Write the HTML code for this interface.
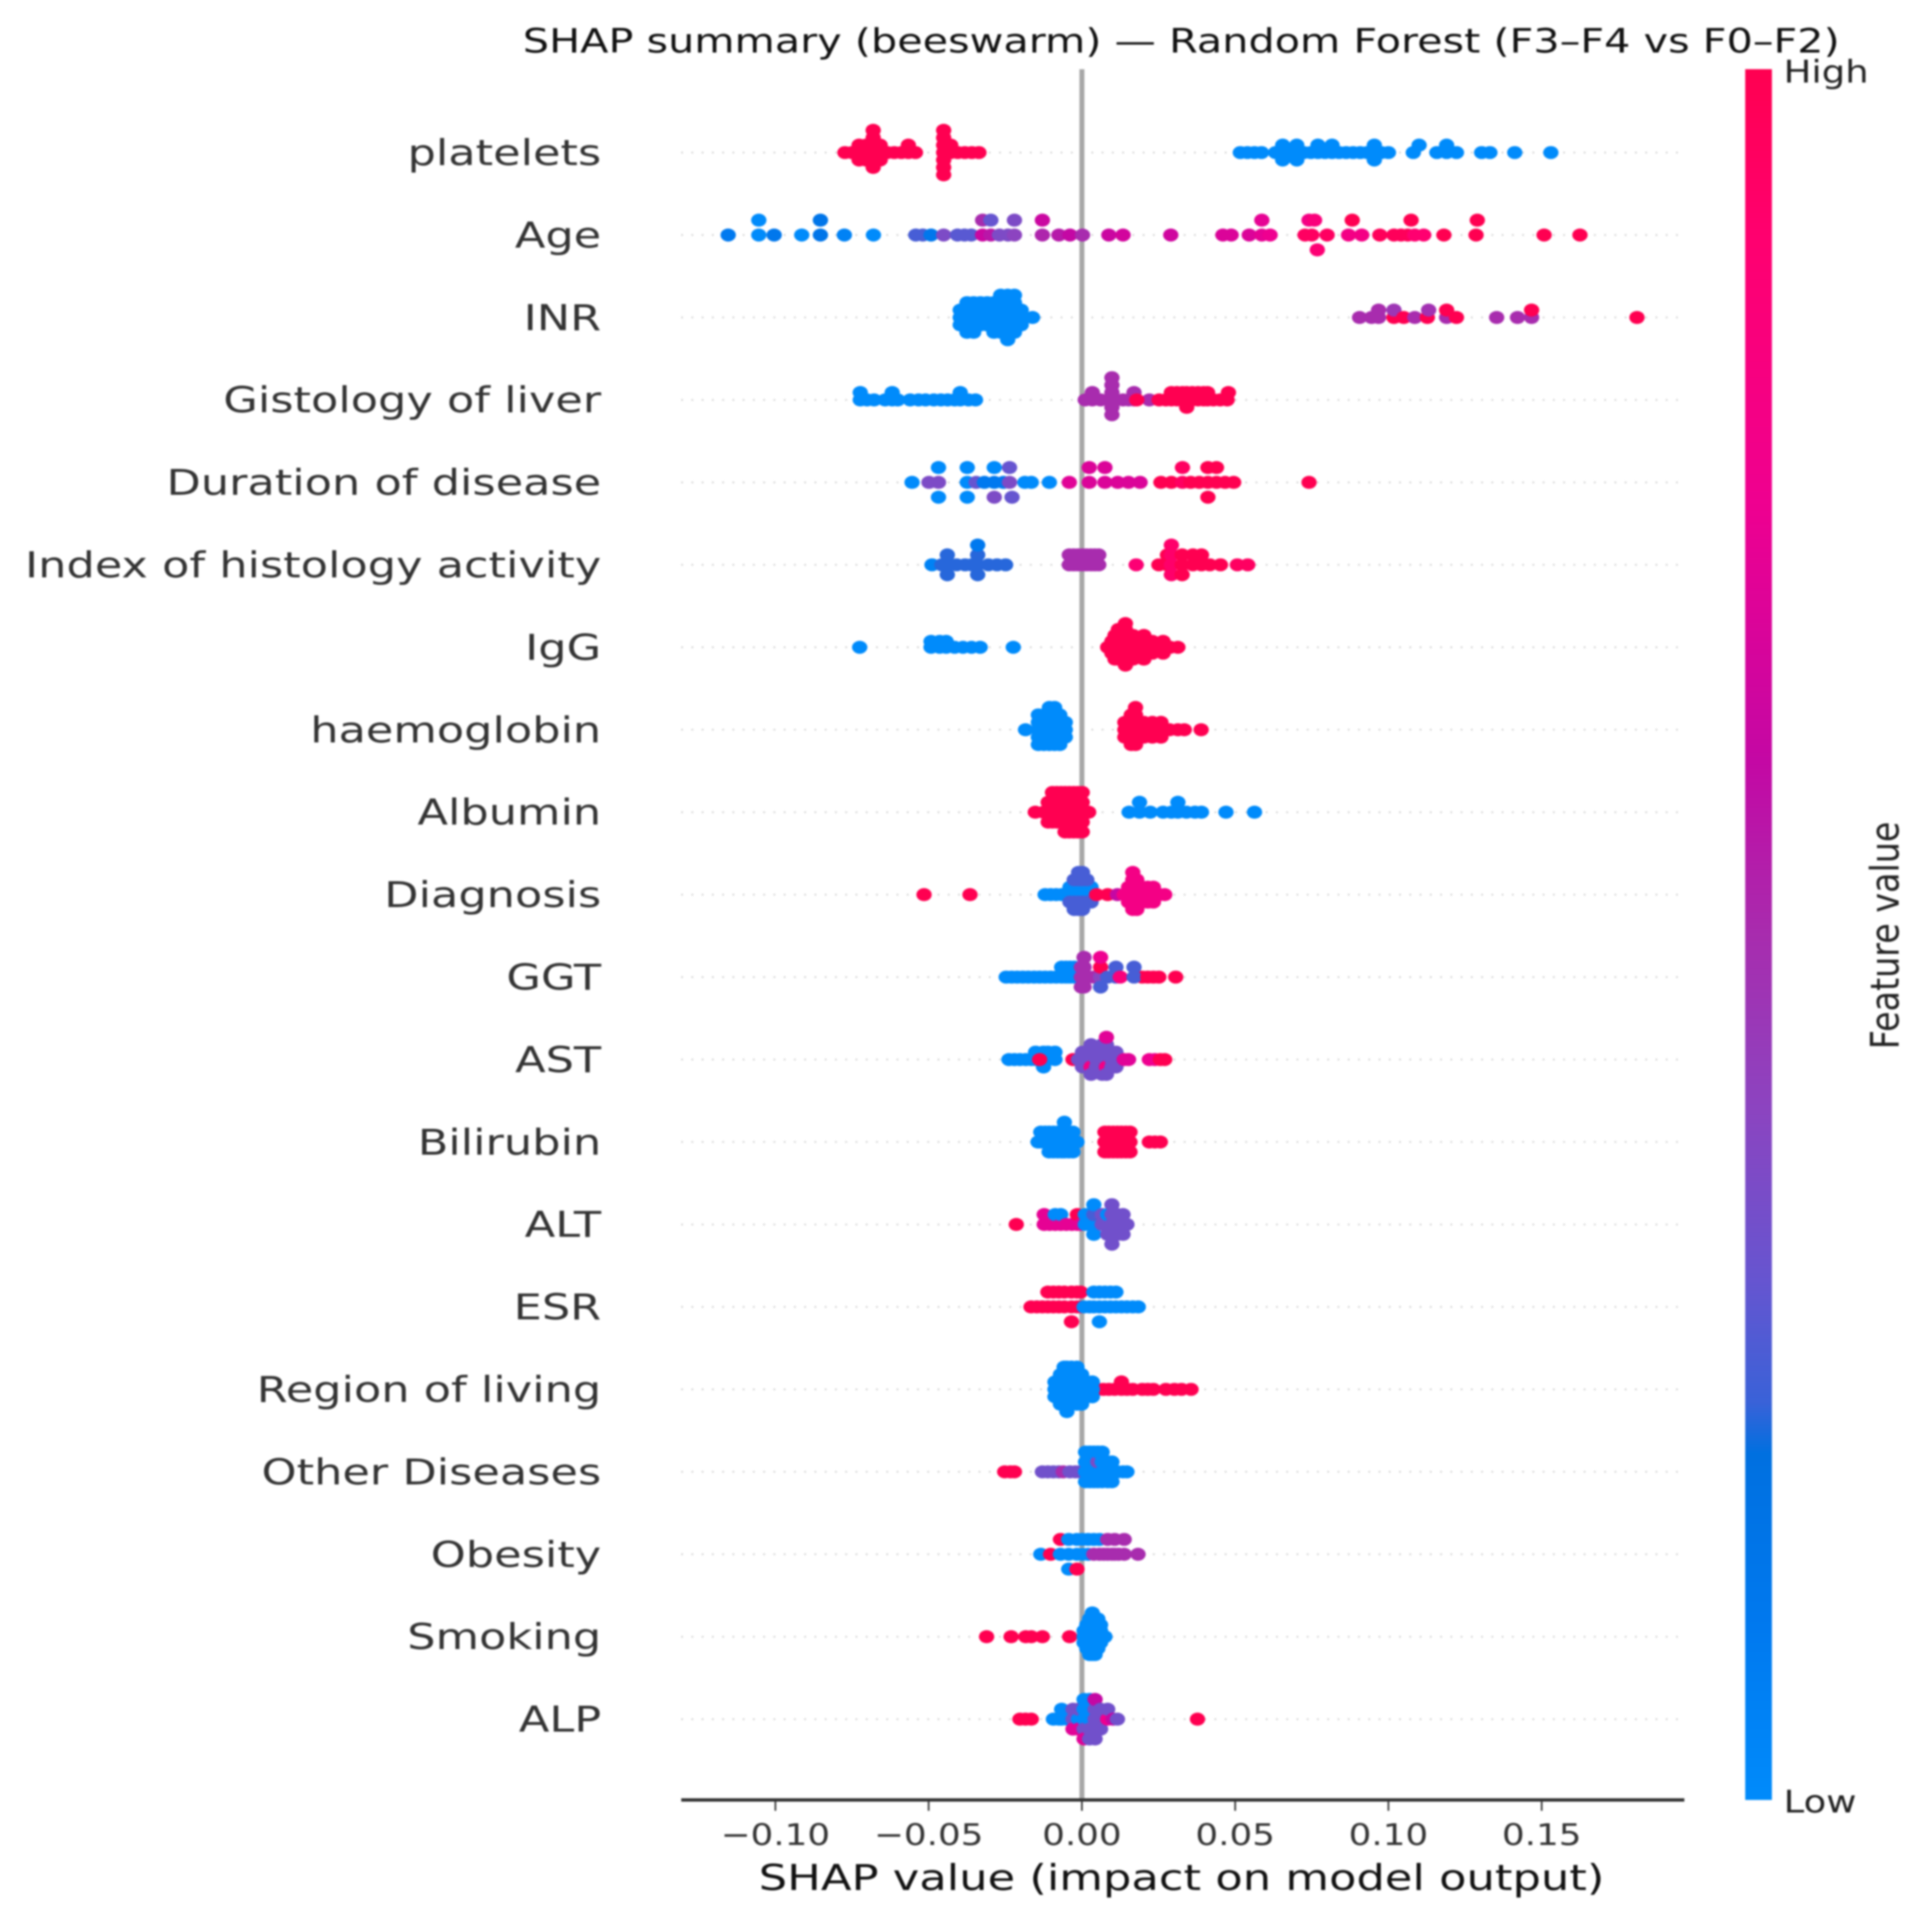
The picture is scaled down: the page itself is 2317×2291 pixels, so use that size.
<!DOCTYPE html>
<html lang="en">
<head>
<meta charset="utf-8">
<title>SHAP summary (beeswarm)</title>
<style>
html,body{margin:0;padding:0;background:#fff;}
svg{display:block;filter:blur(1px);}
text{font-family:"DejaVu Sans","Liberation Sans",sans-serif;}
</style>
</head>
<body>
<svg id="chart" xmlns="http://www.w3.org/2000/svg" width="2317" height="2291" viewBox="0 0 2317 2291">
<rect x="0" y="0" width="2317" height="2291" fill="#ffffff"/>
<defs id="defs"></defs>
<g id="grid"></g>
<line x1="1297.5" y1="83" x2="1297.5" y2="2159" stroke="#a8a8a8" stroke-width="6"/>
<g id="dots"></g>
<g id="labels"></g>
<line x1="817" y1="2159" x2="2020" y2="2159" stroke="#333333" stroke-width="4"/>
<g id="ticks"></g>
<text transform="translate(627,63) scale(1.24,1)" font-size="40" fill="#111">SHAP summary (beeswarm) — Random Forest (F3–F4 vs F0–F2)</text>
<text transform="translate(1417,2267) scale(1.25,1)" font-size="43" text-anchor="middle" fill="#111">SHAP value (impact on model output)</text>
<rect id="cbar" x="2093" y="83" width="32" height="2076"/>
<text transform="translate(2139,99) scale(1.2,1)" font-size="37" fill="#222">High</text>
<text transform="translate(2139,2174) scale(1.2,1)" font-size="37" fill="#222">Low</text>
<text transform="translate(2277,1122) scale(1.19,1) rotate(-90)" font-size="40" text-anchor="middle" fill="#222">Feature value</text>
</svg>
<script>
const featureNames = ["platelets","Age","INR","Gistology of liver","Duration of disease","Index of histology activity","IgG","haemoglobin","Albumin","Diagnosis","GGT","AST","Bilirubin","ALT","ESR","Region of living","Other Diseases","Obesity","Smoking","ALP"];
const xTickValues = [-0.10,-0.05,0,0.05,0.10,0.15];
const xTickLabels = ["−0.10","−0.05","0.00","0.05","0.10","0.15"];
const colorStops = [[0,"#008bfb"],[0.1,"#0079ef"],[0.2,"#0070e0"],[0.23,"#3a62d8"],[0.3,"#6655d0"],[0.4,"#8c44c0"],[0.5,"#a82cae"],[0.6,"#c408a4"],[0.75,"#ef0090"],[0.9,"#ff0070"],[1,"#ff0051"]];

/* each row: groups of [feature value 0..1, [SHAP values]] */
const platelets = [
 [1,[-.0773,-.0750,-.0727,-.0727,-.0727,-.0704,-.0704,-.0704,-.0681,-.0681,-.0681,-.0681,-.0681,-.0681,-.0658,-.0658,-.0658,-.0635,-.0612,-.0589,-.0566,-.0566,-.0543,-.0451,-.0451,-.0451,-.0451,-.0451,-.0451,-.0451,-.0428,-.0428,-.0405,-.0382,-.0359,-.0336]],
 [0,[.0517,.0540,.0563,.0586,.0632,.0655,.0655,.0655,.0678,.0701,.0701,.0701,.0724,.0747,.0770,.0770,.0793,.0816,.0816,.0839,.0862,.0885,.0908,.0931,.0954,.0954,.0954,.0977,.1000,.1081,.1100,.1158,.1190,.1190,.1222,.1304,.1331,.1412,.1530]]
];
const age = [
 [.1,[-.1154]],[0,[-.1054,-.1054]],[.12,[-.1004]],[0,[-.0914]],[.14,[-.0853,-.0853]],[.05,[-.0775]],[0,[-.0680]],
 [.25,[-.0542,-.0519]],[.12,[-.0492]],[.36,[-.0451]],[.28,[-.0406,-.0383,-.0361]],[.62,[-.0324]],[.5,[-.0324]],[.56,[-.0297]],[.3,[-.0297]],[.36,[-.0269,-.0241]],[.4,[-.0220]],[.36,[-.0220]],
 [.52,[-.0129]],[.62,[-.0129]],[.55,[-.0075]],[.6,[-.0039]],[.5,[.0002]],[.62,[.0088]],[.65,[.0134]],[.64,[.0290]],[.68,[.0460,.0487,.0546]],[.72,[.0587,.0587]],[.75,[.0614]],
 [.95,[.0728]],[.8,[.0741]],[.95,[.0750]],[.85,[.0759]],[.88,[.0768]],[.95,[.0800]],[.8,[.0870]],[1,[.0882]],[.8,[.0913]],[.97,[.0972,.1018,.1041,.1063]],[1,[.1074]],[.9,[.1086,.1115]],[1,[.1181,.1286,.1290,.1508,.1625]]
];
const inr = [
 [0,[-.0397,-.0397,-.0397,-.0375,-.0375,-.0375,-.0375,-.0375,-.0353,-.0353,-.0353,-.0353,-.0353,-.0331,-.0331,-.0331,-.0331,-.0309,-.0309,-.0309,-.0309,-.0287,-.0287,-.0287,-.0287,-.0287,-.0265,-.0265,-.0265,-.0265,-.0265,-.0265,-.0242,-.0242,-.0242,-.0242,-.0242,-.0242,-.0242,-.0220,-.0220,-.0220,-.0220,-.0220,-.0220,-.0198,-.0198,-.0198,-.0161]],
 [.5,[.0906,.0945,.0968,.0968]],[1,[.1018]],[.46,[.1018]],[1,[.1050]],[.5,[.1086]],[1,[.1127]],[.48,[.1131]],[.5,[.1190]],[1,[.1190,.1222]],[.5,[.1353,.1421,.1467]],[1,[.1467]],[1,[.1811]]
];
const gistology = [
 [0,[-.0723,-.0723,-.0701,-.0678,-.0642,-.0619,-.0619,-.0601,-.0560,-.0533,-.0510,-.0483,-.0460,-.0438,-.0415,-.0397,-.0397,-.0370,-.0347]],
 [.5,[.0011,.0034,.0034,.0061,.0098,.0098,.0098,.0098,.0098,.0098,.0134,.0152,.0170,.0170,.0220]],
 [1,[.0179,.0252,.0274,.0292,.0292,.0310,.0310,.0328,.0328,.0342,.0342,.0342,.0360,.0360,.0379,.0379,.0397,.0397,.0410,.0410,.0429,.0451,.0474,.0478]]
];
const duration = [
 [0,[-.0554]],[.36,[-.0499,-.0468]],[0,[-.0468,-.0468]],[0,[-.0374,-.0374,-.0374]],[.3,[-.0345]],[.1,[-.0318]],[.1,[-.0286]],[0,[-.0286]],[.36,[-.0286]],[.1,[-.0256]],[.36,[-.0236]],[.3,[-.0236]],[.3,[-.0228]],[0,[-.0186,-.0165]],[0,[-.0106]],
 [.7,[-.0041]],[.68,[.0024,.0024]],[.68,[.0075,.0075,.0117,.0152,.0190]],
 [1,[.0258,.0292]],[.95,[.0328,.0328]],[1,[.0355,.0383,.0411,.0411,.0411,.0439,.0439,.0467,.0495]],[1,[.0741]]
];
const histologyIndex = [
 [.05,[-.0489]],[.22,[-.0457,-.0439,-.0439,-.0439,-.0409,-.0381,-.0360]],[.22,[-.0340,-.0340,-.0340]],[.1,[-.0340]],[.22,[-.0305,-.0277,-.0249]],
 [.5,[-.0041,-.0041,-.0027,-.0027,-.0013,-.0013,.0001,.0001,.0015,.0015,.0029,.0029,.0042,.0042,.0055,.0055]],
 [.88,[.0177]],[1,[.0251,.0279,.0279]],[.92,[.0292,.0292,.0292,.0292]],[1,[.0327,.0327,.0327,.0362,.0362,.0390,.0390,.0417,.0452]],[.95,[.0507,.0541]]
];
const igg = [
 [0,[-.0725,-.0492,-.0492,-.0464,-.0464,-.0443,-.0443,-.0415,-.0388,-.0360,-.0332,-.0224]],
 [1,[.0084,.0098,.0098,.0098,.0108,.0108,.0108,.0108,.0108,.0119,.0119,.0119,.0119,.0119,.0119,.0130,.0130,.0130,.0130,.0130,.0142,.0142,.0142,.0142,.0142,.0142,.0142,.0142,.0155,.0155,.0155,.0155,.0155,.0167,.0167,.0167,.0167,.0167,.0185,.0185,.0185,.0202,.0202,.0202,.0202,.0202,.0216,.0216,.0216,.0230,.0230,.0230,.0247,.0265,.0265,.0265,.0288,.0313]]
];
const haemoglobin = [
 [0,[-.0184,-.0142,-.0142,-.0142,-.0142,-.0142,-.0124,-.0124,-.0124,-.0124,-.0124,-.0106,-.0106,-.0106,-.0106,-.0106,-.0106,-.0089,-.0089,-.0089,-.0089,-.0089,-.0089,-.0072,-.0072,-.0072,-.0072,-.0072,-.0054,-.0054,-.0054]],
 [1,[.0140,.0140,.0140,.0161,.0161,.0161,.0161,.0161,.0175,.0175,.0175,.0175,.0175,.0175,.0202,.0202,.0202,.0230,.0230,.0230,.0258,.0258,.0258,.0286,.0313,.0334,.0389]]
];
const albumin = [
 [1,[-.0152,-.0124,-.0110,-.0110,-.0110,-.0096,-.0096,-.0096,-.0096,-.0082,-.0082,-.0082,-.0082,-.0068,-.0068,-.0068,-.0068,-.0055,-.0055,-.0055,-.0055,-.0055,-.0041,-.0041,-.0041,-.0041,-.0041,-.0027,-.0027,-.0027,-.0027,-.0027,-.0013,-.0013,-.0013,-.0013,-.0013,.0001,.0001,.0001,.0001,.0001,.0015,.0022]],
 [0,[.0154,.0188,.0188,.0223,.0265,.0292,.0313,.0313,.0341,.0369,.0390,.0470,.0563]]
];
const diagnosis = [
 [1,[-.0515,-.0365]],[0,[-.0120,-.0102,-.0084,-.0066]],
 [0,[-.0039,-.0039,-.0025,-.0025,-.0011,-.0011,.0002,.0002,.0016,.0016,.0030,.0030]],
 [.25,[-.0039,-.0025,-.0025,-.0025,-.0011,-.0011,-.0011,-.0011,.0002,.0002,.0002,.0002,.0016,.0016,.0030]],
 [1,[.0048,.0084]],[.6,[.0116]],
 [.8,[.0138,.0152,.0152,.0152,.0166,.0166,.0166,.0166,.0166,.0166,.0179,.0179,.0179,.0179,.0179,.0197,.0197,.0197,.0215,.0215,.0215,.0233,.0233,.0233,.0252,.0270]]
];
const ggt = [
 [0,[-.0247,-.0229,-.0211,-.0193,-.0175,-.0156,-.0138,-.0120,-.0102,-.0084,-.0066,-.0066,-.0052,-.0052,-.0039,-.0039,-.0025,-.0025,-.0011]],
 [.5,[-.0002,-.0002,-.0002,.0007,.0007,.0007,.0007,.0021,.0039]],
 [.4,[.0061]],[1,[.0061]],[.25,[.0061]],[.75,[.0061]],
 [.25,[.0084,.0111,.0111]],[.85,[.0125]],[1,[.0197]],[.25,[.0170,.0170]],[1,[.0215,.0233,.0251,.0306]]
];
const ast = [
 [0,[-.0238,-.0220,-.0202,-.0183,-.0165,-.0151,-.0151,-.0125,-.0125,-.0125,-.0111,-.0111,-.0088,-.0088]],
 [1,[-.0138,-.0029]],
 [.33,[-.0011,.0002,.0002,.0002,.0016,.0016,.0016,.0030,.0030]],[.8,[.0030]],[.33,[.0030,.0030]],
 [.33,[.0048,.0048,.0048,.0066,.0066,.0066,.0066,.0066,.0080,.0080]],[.8,[.0080]],[.33,[.0080,.0080]],[.7,[.0080]],
 [.33,[.0098,.0098,.0098,.0111,.0111,.0111]],[.7,[.0138,.0152]],[.75,[.0220,.0238]],[1,[.0256,.0270]]
];
const bilirubin = [
 [0,[-.0143,-.0134,-.0134,-.0120,-.0120,-.0107,-.0107,-.0107,-.0093,-.0093,-.0093,-.0079,-.0079,-.0079,-.0066,-.0066,-.0066,-.0057,-.0057,-.0057,-.0057,-.0043,-.0043,-.0043,-.0029,-.0029,-.0029,-.0016]],
 [1,[.0075,.0075,.0075,.0088,.0088,.0088,.0102,.0102,.0102,.0116,.0116,.0116,.0129,.0129,.0129,.0143,.0143,.0143,.0157,.0157,.0157,.0220,.0238,.0256]]
];
const alt = [
 [1,[-.0214]],[.72,[-.0123,-.0123,-.0105,-.0087]],[0,[-.0087]],[.72,[-.0069]],[0,[-.0069]],[.72,[-.0051,-.0033,-.0015]],[1,[-.0015]],[.72,[-.0003]],
 [0,[.0011,.0011]],[0,[.0039]],[.25,[.0039]],[0,[.0039,.0039]],
 [.33,[.0066,.0066,.0084]],[0,[.0084]],[.33,[.0084,.0098,.0098,.0098,.0098,.0098,.0116,.0116,.0116,.0134,.0134,.0134,.0147]]
];
const esr = [
 [1,[-.0166,-.0147,-.0129,-.0111,-.0111,-.0093,-.0093,-.0075,-.0075,-.0057,-.0057,-.0034,-.0034,-.0034,-.0016,-.0016,-.0004,-.0004]],
 [0,[.0007,.0025,.0039,.0039,.0057,.0057,.0057,.0075,.0075,.0093,.0093,.0111,.0111,.0129,.0147,.0166,.0184]]
];
const region = [
 [1,[.0052,.0070,.0088,.0107,.0129,.0129,.0147,.0166,.0197,.0215,.0233,.0274,.0302,.0325,.0356]],
 [0,[-.0088,-.0088,-.0088,-.0070,-.0070,-.0070,-.0070,-.0070,-.0058,-.0058,-.0058,-.0058,-.0058,-.0058,-.0049,-.0049,-.0049,-.0049,-.0049,-.0049,-.0049,-.0034,-.0034,-.0034,-.0034,-.0034,-.0034,-.0016,-.0016,-.0016,-.0016,-.0016,-.0016,-.0001,-.0001,-.0001,-.0001,-.0001,.0016,.0016,.0016,.0034,.0034,.0034]]
];
const otherDiseases = [
 [1,[-.0252,-.0233,-.0220]],[.33,[-.0129,-.0111,-.0093,-.0075]],[.5,[-.0061]],[.33,[-.0039,-.0021,-.0007]],
 [0,[.0012,.0012,.0012,.0012,.0026,.0026,.0026,.0026,.0039,.0039,.0039,.0039,.0052]],[.36,[.0052]],[0,[.0052,.0052,.0066,.0066,.0066,.0066,.0084,.0084,.0084,.0098,.0098,.0098,.0116,.0134,.0147]]
];
const obesity = [
 [0,[-.0134]],[1,[-.0102]],[0,[-.0070]],[1,[-.0070]],[0,[-.0043,-.0043,-.0043,-.0016,-.0016]],[1,[-.0016]],[0,[.0002,.0002,.0020,.0020]],
 [.5,[.0039]],[0,[.0039]],[.5,[.0057]],[0,[.0057]],[.5,[.0071,.0084,.0084,.0098,.0107,.0107,.0120,.0138,.0138,.0183]]
];
const smoking = [
 [1,[-.0311,-.0231,-.0183,-.0165,-.0129,-.0040]],
 [0,[.0007,.0007,.0007,.0016,.0016,.0016,.0016,.0016,.0025,.0025,.0025,.0025,.0025,.0025,.0025,.0034,.0034,.0034,.0034,.0034,.0034,.0034,.0034,.0043,.0043,.0043,.0043,.0043,.0043,.0043,.0052,.0052,.0052,.0052,.0052,.0052,.0061,.0061,.0061,.0061,.0075]]
];
const alp = [
 [1,[-.0202,-.0184,-.0165]],[0,[-.0093,-.0075,-.0066,-.0066,-.0048]],
 [.33,[-.0029,-.0029]],[.7,[-.0029]],
 [0,[-.0011]],[.33,[-.0011]],[.7,[-.0011]],
 [0,[.0007,.0007]],[.33,[.0007]],[0,[.0007]],[.7,[.0007]],
 [0,[.0025,.0025]],[.33,[.0025]],[0,[.0025]],[.33,[.0025]],
 [.33,[.0043,.0043,.0043]],[.6,[.0043]],[.33,[.0043]],
 [.33,[.0061,.0061,.0061]],[.75,[.0084]],[.33,[.0084]],[.6,[.0102]],[.33,[.0116]],[1,[.0377]]
];
const rows = [platelets,age,inr,gistology,duration,histologyIndex,igg,haemoglobin,albumin,diagnosis,ggt,ast,bilirubin,alt,esr,region,otherDiseases,obesity,smoking,alp];

const SVGNS = "http://www.w3.org/2000/svg";
function xScale(v){ return 1297.5 + 3676 * v; }
function yScale(i){ return 183 + 98.9 * i; }
function hexToRgb(h){ return [parseInt(h.substr(1,2),16),parseInt(h.substr(3,2),16),parseInt(h.substr(5,2),16)]; }
function colorOf(t){
  for(let i=1;i<colorStops.length;i++){
    if(t<=colorStops[i][0]){
      const a=colorStops[i-1], b=colorStops[i];
      const f=(t-a[0])/(b[0]-a[0]);
      const ca=hexToRgb(a[1]), cb=hexToRgb(b[1]);
      return "rgb("+ca.map((c,k)=>Math.round(c+(cb[k]-c)*f)).join(",")+")";
    }
  }
  return colorStops[colorStops.length-1][1];
}
/* SHAP beeswarm lane layout: binned values stack alternately above and below the row */
function layout(groups){
  const pts=[];
  groups.forEach(g=>g[1].forEach(s=>pts.push({shap:s,val:g[0],lane:0})));
  const vals=pts.map(p=>p.shap);
  const lo=Math.min(...vals), hi=Math.max(...vals);
  const bins={};
  pts.forEach(p=>{
    const q=Math.round(100*(p.shap-lo)/(hi-lo+1e-8));
    const layer=bins[q]||0;
    p.lane=Math.ceil(layer/2)*((layer%2)*2-1);
    bins[q]=layer+1;
  });
  const top=Math.max(...pts.map(p=>p.lane+1));
  const step=35.6/top;
  pts.forEach(p=>{p.offset=p.lane*step;});
  return pts;
}

const grid=document.getElementById("grid");
const dots=document.getElementById("dots");
const labels=document.getElementById("labels");
const ticks=document.getElementById("ticks");

featureNames.forEach((name,i)=>{
  const y=yScale(i);
  const slug=name.toLowerCase().replace(/\s+/g,"-");

  const guide=document.createElementNS(SVGNS,"line");
  
  
  guide.setAttribute("x1",817); guide.setAttribute("x2",2016);
  guide.setAttribute("y1",y); guide.setAttribute("y2",y);
  guide.setAttribute("stroke","#cfcfcf"); guide.setAttribute("stroke-width",2);
  guide.setAttribute("stroke-dasharray","2 10.3");
  grid.appendChild(guide);

  const label=document.createElementNS(SVGNS,"text");
  
  
  label.setAttribute("transform","translate(721,"+(y+15)+") scale(1.245,1)");
  label.setAttribute("font-size","43");
  label.setAttribute("text-anchor","end");
  label.setAttribute("fill","#333333");
  label.textContent=name;
  labels.appendChild(label);

  layout(rows[i]).forEach(p=>{
    const e=document.createElementNS(SVGNS,"ellipse");
    
    
    e.setAttribute("cx",xScale(p.shap).toFixed(1));
    e.setAttribute("cy",(y-p.offset).toFixed(1));
    e.setAttribute("rx",9.2);
    e.setAttribute("ry",7.8);
    e.setAttribute("fill",colorOf(p.val));
    dots.appendChild(e);
  });
});

xTickValues.forEach((v,i)=>{
  const x=xScale(v);
  const tick=document.createElementNS(SVGNS,"line");
  
  
  tick.setAttribute("x1",x); tick.setAttribute("x2",x);
  tick.setAttribute("y1",2159); tick.setAttribute("y2",2172);
  tick.setAttribute("stroke","#333333"); tick.setAttribute("stroke-width",2);
  ticks.appendChild(tick);
  const t=document.createElementNS(SVGNS,"text");
  
  
  t.setAttribute("transform","translate("+x+",2213) scale(1.19,1)");
  t.setAttribute("font-size","36");
  t.setAttribute("text-anchor","middle");
  t.setAttribute("fill","#333333");
  t.textContent=xTickLabels[i];
  ticks.appendChild(t);
});

const grad=document.createElementNS(SVGNS,"linearGradient");
grad.setAttribute("id","cbarGrad");
grad.setAttribute("x1","0"); grad.setAttribute("y1","1");
grad.setAttribute("x2","0"); grad.setAttribute("y2","0");
colorStops.forEach(s=>{
  const st=document.createElementNS(SVGNS,"stop");
  st.setAttribute("offset",s[0]);
  st.setAttribute("stop-color",s[1]);
  grad.appendChild(st);
});
document.getElementById("defs").appendChild(grad);
document.getElementById("cbar").setAttribute("fill","url(#cbarGrad)");
</script>
</body>
</html>
